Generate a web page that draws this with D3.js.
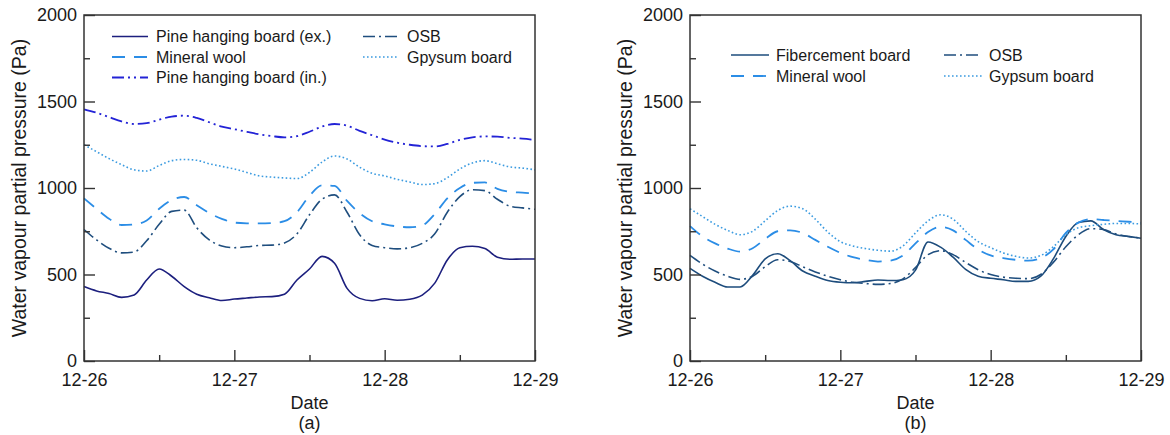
<!DOCTYPE html>
<html>
<head>
<meta charset="utf-8">
<script src="https://cdn.jsdelivr.net/npm/d3@7"></script>
<style>
  html, body { margin: 0; padding: 0; background: #fff; }
  svg { display: block; font-family: "Liberation Sans", Arial, sans-serif; }
</style>
</head>
<body>
<svg id="chart" width="1170" height="435"></svg>
<script>
// ---------- data (hours since 12-26 00:00, every 2 h) ----------
const hours = [0,2,4,6,8,10,12,14,16,18,20,22,24,26,28,30,32,34,36,38,40,42,44,46,48,50,52,54,56,58,60,62,64,66,68,70,72];

const majorTicks = [0, 24, 48, 72];
const minorTicks = [12, 36, 60];
const tickLabels = ["12-26", "12-27", "12-28", "12-29"];
const yMajorTicks = [0, 500, 1000, 1500, 2000];
const yMinorTicks = [250, 750, 1250, 1750];

// Panel (a)
const pineEx   = [430,405,390,368,382,468,532,490,430,386,366,350,358,364,370,372,386,468,532,605,565,420,362,348,360,351,357,381,450,584,655,663,650,600,588,590,590];
const mineralA = [940,880,822,786,790,812,880,930,948,900,855,822,800,796,795,797,808,860,955,1015,1012,925,855,808,790,778,773,784,850,940,1000,1030,1032,995,978,973,968];
const pineIn   = [1455,1435,1410,1385,1370,1375,1395,1413,1418,1405,1380,1355,1340,1325,1310,1300,1293,1300,1325,1355,1370,1360,1330,1305,1280,1262,1250,1242,1240,1255,1278,1293,1298,1297,1290,1285,1278];
const osbA     = [760,700,652,625,630,695,790,865,872,770,700,665,655,660,668,670,682,735,845,935,960,860,730,668,655,648,655,680,735,860,950,990,985,935,895,885,877];
const gypsumA  = [1250,1210,1170,1135,1105,1098,1130,1158,1165,1160,1140,1125,1110,1090,1070,1063,1058,1055,1090,1150,1185,1168,1120,1085,1070,1050,1035,1020,1025,1060,1110,1145,1158,1140,1122,1115,1105];

// Panel (b)
const fiberB   = [535,490,455,428,428,495,590,620,580,520,490,465,455,452,460,468,465,470,525,688,658,600,530,490,478,470,460,460,490,590,720,800,810,760,730,720,710];
const mineralB = [780,720,680,650,632,652,705,750,755,740,700,660,625,600,585,575,580,610,680,745,775,755,700,645,610,595,585,580,595,645,740,800,820,815,810,805,800];
const osbB     = [610,560,520,490,472,490,545,585,575,545,515,490,470,455,448,443,448,475,540,615,638,615,570,528,500,485,478,476,500,570,660,730,765,760,735,720,710];
const gypsumB  = [880,835,790,755,730,750,810,870,895,880,820,745,690,665,650,640,635,665,740,810,845,820,750,690,655,625,605,595,610,660,730,770,782,790,795,795,792];

const seriesA = [
  {name: "Pine hanging board (ex.)", values: pineEx,   color: "#1c1f7e", dash: null,              width: 1.6},
  {name: "Mineral wool",             values: mineralA, color: "#2b8de6", dash: "13,9",            width: 1.8},
  {name: "Pine hanging board (in.)", values: pineIn,   color: "#2323d6", dash: "12,4,2,4,2,4",    width: 1.8},
  {name: "OSB",                      values: osbA,     color: "#1f4e7e", dash: "12,4,2,4",        width: 1.6},
  {name: "Gpysum board",             values: gypsumA,  color: "#3b9be0", dash: "1.6,2.4",         width: 1.6}
];
const seriesB = [
  {name: "Fibercement board", values: fiberB,   color: "#1d4c7c", dash: null,           width: 1.6},
  {name: "Mineral wool",      values: mineralB, color: "#2b8de6", dash: "13,9",         width: 1.8},
  {name: "OSB",               values: osbB,     color: "#1f4e7e", dash: "12,4,2,4",     width: 1.6},
  {name: "Gypsum board",      values: gypsumB,  color: "#3b9be0", dash: "1.6,2.4",      width: 1.6}
];

// legend layouts: [series index, column, row]
const legendA = {x0: 112, x1: 363, len: 36, textGap: 8, y0: 36.5, dy: 20.5, order: [[0,0,0],[1,0,1],[2,0,2],[3,1,0],[4,1,1]]};
const legendB = {x0: 731, x1: 944, len: 38, textGap: 7, y0: 55, dy: 21, order: [[0,0,0],[1,0,1],[2,1,0],[3,1,1]]};

const svg = d3.select("#chart");
svg.append("rect").attr("width", 1170).attr("height", 435).attr("fill", "#fff");

function panel(left, right, series, legend, tag, titleX) {
  const top = 15, bottom = 361;
  const x = d3.scaleLinear().domain([0, 72]).range([left, right]);
  const y = d3.scaleLinear().domain([0, 2000]).range([bottom, top]);
  const g = svg.append("g");

  // lines
  const line = d3.line().x((d, i) => x(hours[i])).y(d => y(d)).curve(d3.curveMonotoneX);
  series.forEach(s => {
    g.append("path").datum(s.values)
      .attr("d", line)
      .attr("fill", "none")
      .attr("stroke", s.color)
      .attr("stroke-width", s.width)
      .attr("stroke-dasharray", s.dash)
      .attr("stroke-linejoin", "round");
  });

  // axes
  const axisColor = "#333";
  const xMaj = g.append("g").attr("transform", `translate(0,${bottom})`)
    .call(d3.axisBottom(x).tickValues(majorTicks).tickSize(-11).tickPadding(12.5)
      .tickFormat((d, i) => tickLabels[i]));
  const xMin = g.append("g").attr("transform", `translate(0,${bottom})`)
    .call(d3.axisBottom(x).tickValues(minorTicks).tickSize(-6).tickFormat(""));
  const yMaj = g.append("g").attr("transform", `translate(${left},0)`)
    .call(d3.axisLeft(y).tickValues(yMajorTicks).tickSize(-11).tickPadding(7).tickFormat(d3.format("d")));
  const yMin = g.append("g").attr("transform", `translate(${left},0)`)
    .call(d3.axisLeft(y).tickValues(yMinorTicks).tickSize(-6).tickFormat(""));
  [xMaj, xMin, yMaj, yMin].forEach(a => {
    a.select(".domain").remove();
    a.selectAll("line").attr("stroke", axisColor).attr("stroke-width", 1.4);
    a.selectAll("text").attr("font-size", 18).attr("fill", "#1a1a1a")
      .attr("font-family", '"Liberation Sans", Arial, sans-serif');
  });

  g.append("rect").attr("x", left).attr("y", top).attr("width", right - left).attr("height", bottom - top)
    .attr("fill", "none").attr("stroke", axisColor).attr("stroke-width", 1.5);

  // titles
  const cx = (left + right) / 2;
  g.append("text").attr("x", cx).attr("y", 409).attr("text-anchor", "middle")
    .attr("font-size", 18).attr("fill", "#1a1a1a").text("Date");
  g.append("text").attr("x", cx).attr("y", 429).attr("text-anchor", "middle")
    .attr("font-size", 18).attr("fill", "#1a1a1a").text(tag);
  g.append("text").attr("transform", `translate(${titleX},${(top + bottom) / 2}) rotate(-90)`)
    .attr("text-anchor", "middle").attr("dy", "0.35em")
    .attr("font-size", 19.5).attr("fill", "#1a1a1a").text("Water vapour partial pressure (Pa)");

  // legend
  legend.order.forEach(([si, col, row]) => {
    const s = series[si];
    const lx = col === 0 ? legend.x0 : legend.x1;
    const ly = legend.y0 + row * legend.dy;
    g.append("line").attr("x1", lx).attr("x2", lx + legend.len).attr("y1", ly).attr("y2", ly)
      .attr("stroke", s.color).attr("stroke-width", s.width).attr("stroke-dasharray", s.dash);
    g.append("text").attr("x", lx + legend.len + legend.textGap).attr("y", ly).attr("dy", "0.35em")
      .attr("font-size", 16).attr("fill", "#1a1a1a").text(s.name);
  });
}

panel(84, 535, seriesA, legendA, "(a)", 19);
panel(690, 1141, seriesB, legendB, "(b)", 625);
</script>
</body>
</html>
